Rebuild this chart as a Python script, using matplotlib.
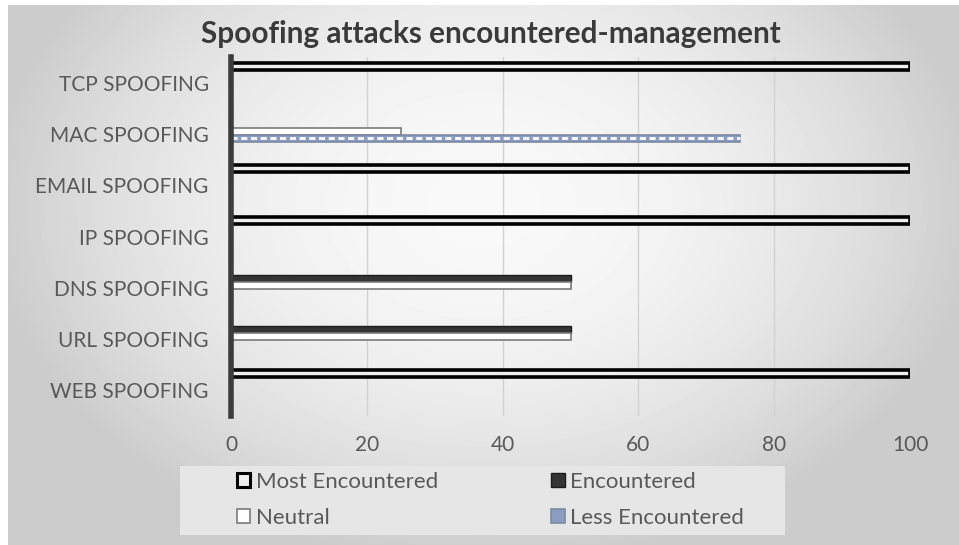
import numpy as np
import matplotlib
matplotlib.use("Agg")
import matplotlib.pyplot as plt
from matplotlib.patches import Patch, Rectangle

plt.rcParams['font.family'] = ['Lato', 'DejaVu Sans']

# ---------------- data ----------------
categories = ["TCP SPOOFING", "MAC SPOOFING", "EMAIL SPOOFING", "IP SPOOFING",
              "DNS SPOOFING", "URL SPOOFING", "WEB SPOOFING"]
most_encountered = [100, 0, 100, 100, 0, 0, 100]
encountered = [0, 0, 0, 0, 50, 50, 0]
neutral = [0, 25, 0, 0, 50, 50, 0]
less_encountered = [0, 75, 0, 0, 0, 0, 0]
series_names = ["Most Encountered", "Encountered", "Neutral", "Less Encountered"]
x_ticks = [0, 20, 40, 60, 80, 100]
title = "Spoofing attacks encountered-management"

W, H = 959, 545
fig = plt.figure(figsize=(W / 100, H / 100), dpi=100)
fig.patch.set_facecolor("white")

# background gradient
bg = fig.add_axes([8 / W, 0, 1 - 8 / W, 1 - 5 / H], zorder=-10)
yy, xx = np.mgrid[0:540, 0:951]
r2 = ((xx - 475) / 470.0) ** 2 + ((yy - 200) / 340.0) ** 2
v = np.clip(0.975 - 0.16 * r2, 0.80, 1.0)
bg.imshow(v, cmap="gray", vmin=0, vmax=1, aspect="auto", interpolation="bilinear")
bg.axis("off")

# main axes
left, right = 231 / W, 910 / W
top, bottom = 1 - 57 / H, 1 - 416 / H
ax = fig.add_axes([left, bottom, right - left, top - bottom])
ax.set_facecolor("none")

n = len(categories)
idx = np.arange(n)
h = 0.135
offsets = [-0.32, -0.185, -0.05, 0.085]

def nz(vals, off):
    pos = [i + off for i, val in enumerate(vals) if val > 0]
    w = [val for val in vals if val > 0]
    return pos, w

p, w = nz(most_encountered, offsets[0])
ax.barh(p, w, height=h, facecolor="#eeeeee", edgecolor="black", linewidth=2.6,
        joinstyle="round", zorder=3)
p, w = nz(encountered, offsets[1])
ax.barh(p, w, height=h, facecolor="#343434", edgecolor="#1c1c1c", linewidth=1.0,
        zorder=3)
p, w = nz(neutral, offsets[2])
ax.barh(p, w, height=h, facecolor="white", edgecolor="#7a7a7a", linewidth=1.2,
        zorder=3)
p, w = nz(less_encountered, offsets[3])
ax.barh(p, w, height=h, facecolor="#8a9dc0", edgecolor="#7d8aa3", linewidth=1.2,
        zorder=3)
ax.hlines(p, 0, w, colors="white", linewidth=2.0, linestyles=(0, (2.2, 1.3)),
          zorder=4)

ax.set_ylim(n - 0.5, -0.5)
ax.set_xlim(0, 100)
ax.set_yticks(idx)
ax.set_yticklabels(categories)
ax.set_xticks(x_ticks)
ax.set_xticklabels([str(t) for t in x_ticks])
ax.tick_params(axis="y", length=0, pad=16, labelsize=15, labelcolor="#595959")
ax.tick_params(axis="x", length=0, pad=14, labelsize=15, labelcolor="#595959")
ax.grid(axis="x", color="#d2d2d2", linewidth=1.0, zorder=0)
ax.set_axisbelow(True)
for s in ["top", "right", "bottom"]:
    ax.spines[s].set_visible(False)
ax.spines["left"].set_color("#3c3c3c")
ax.spines["left"].set_linewidth(4)
ax.spines["left"].set_zorder(5)

# title
fig.text(491 / W, 1 - 34 / H, title, ha="center", va="center", fontsize=21.4,
         fontweight="bold", color="#3a3a3a")

# legend background
fig.patches.append(Rectangle((180 / W, 1 - 535 / H), 605 / W, 69 / H,
                             transform=fig.transFigure, facecolor="#e6e6e6",
                             edgecolor="none", zorder=0))
handles = [
    Patch(facecolor="#eeeeee", edgecolor="black", linewidth=2.2),
    Patch(facecolor="white", edgecolor="#7a7a7a", linewidth=1.2),
    Patch(facecolor="#343434", edgecolor="#1c1c1c", linewidth=1.0),
    Patch(facecolor="#8a9dc0", edgecolor="#7d8aa3", linewidth=1.2),
]
labels = [series_names[0], series_names[2], series_names[1], series_names[3]]
leg = fig.legend(handles, labels, ncol=2, frameon=False,
                 loc="center left", bbox_to_anchor=(219 / W, 1 - 500 / H),
                 fontsize=16, labelcolor="#595959", handlelength=0.6,
                 handleheight=0.6, handletextpad=0.25, columnspacing=5.1,
                 labelspacing=0.72, borderpad=0.3)

fig.savefig("out.png", dpi=100, facecolor=fig.get_facecolor())
